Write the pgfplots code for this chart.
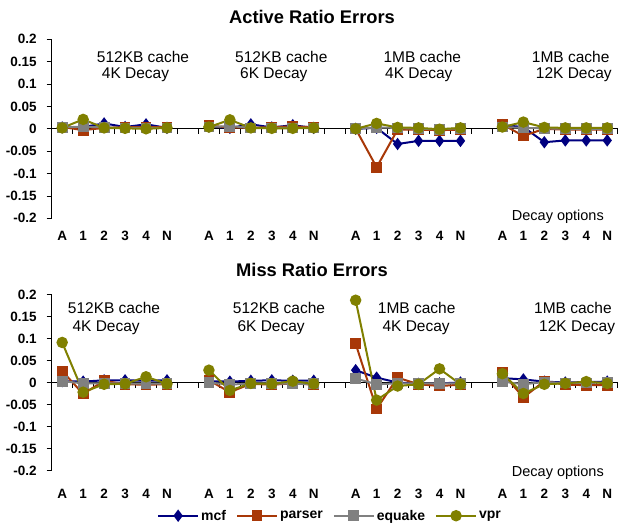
\documentclass[border=0pt]{standalone}
\usepackage{fontspec}
\setmainfont{Liberation Sans}
\usepackage{pgfplots}
\usepackage{pgfplotstable}
\pgfplotsset{compat=1.18}
\definecolor{cmcf}{RGB}{0,0,128}
\definecolor{cparser}{RGB}{168,56,8}
\definecolor{cequake}{RGB}{128,128,128}
\definecolor{cvpr}{RGB}{128,128,0}
\newcommand\tickfont{\fontsize{13.5}{14}\selectfont\bfseries}
\newcommand\glabfont{\fontsize{15.5}{16}\selectfont}

\pgfplotstableread{
x mcf parser equake vpr
0 0.003 0.004 0.003 0.002
1 0.004 -0.003 0.005 0.021
2 0.012 0.002 0.003 0.002
3 0.004 0.004 0.002 0.001
4 0.010 0.004 0.002 0.000
5 0.002 0.004 0.002 0.002
6 nan nan nan nan
7 0.005 0.007 0.004 0.004
8 0.002 0.003 0.006 0.020
9 0.010 0.002 0.002 0.002
10 0.003 0.004 0.002 0.001
11 0.008 0.005 0.002 0.001
12 0.002 0.004 0.002 0.002
13 nan nan nan nan
14 0.000 0.000 0.000 0.000
15 0.002 -0.086 0.003 0.012
16 -0.034 -0.002 0.002 0.003
17 -0.027 -0.002 0.000 0.002
18 -0.027 -0.003 -0.001 -0.001
19 -0.027 -0.002 0.001 0.002
20 nan nan nan nan
21 0.008 0.010 0.004 0.004
22 0.004 -0.016 0.002 0.015
23 -0.030 0.000 0.001 0.003
24 -0.026 -0.002 0.000 0.002
25 -0.026 -0.002 0.000 0.002
26 -0.026 -0.002 0.000 0.002
}\activedata

\pgfplotstableread{
x mcf parser equake vpr
0 0.003 0.026 0.003 0.091
1 0.002 -0.026 -0.002 -0.022
2 0.005 0.004 -0.002 -0.004
3 0.005 -0.004 -0.002 -0.003
4 0.004 -0.005 -0.003 0.013
5 0.005 -0.004 -0.002 -0.003
6 nan nan nan nan
7 0.003 0.005 0.000 0.028
8 0.002 -0.022 -0.005 -0.018
9 0.004 -0.003 -0.002 -0.002
10 0.005 -0.005 -0.002 -0.003
11 0.004 -0.002 -0.003 0.003
12 0.004 -0.005 -0.003 -0.003
13 nan nan nan nan
14 0.028 0.088 0.009 0.187
15 0.011 -0.060 -0.004 -0.040
16 0.000 0.011 -0.002 -0.008
17 -0.003 -0.004 -0.002 -0.004
18 -0.002 -0.008 -0.002 0.031
19 0.000 -0.005 -0.002 -0.004
20 nan nan nan nan
21 0.010 0.022 0.002 0.020
22 0.007 -0.034 -0.004 -0.025
23 0.002 0.003 0.001 -0.004
24 0.000 -0.005 -0.001 -0.002
25 0.001 -0.006 -0.001 0.002
26 0.002 -0.006 0.000 -0.002
}\missdata

\pgfplotsset{
  panel/.style={
    scale only axis, width=566pt, anchor=south west,
    xmin=-0.5, xmax=26.5, ymin=-0.2, ymax=0.2,
    axis y line=left, axis x line=middle,
    axis line style={-, black, line width=0.8pt},
    hide obscured x ticks=false, hide obscured y ticks=false,
    tick align=outside, major tick length=5pt, minor tick length=5pt,
    ytick={-0.2,-0.15,-0.1,-0.05,0,0.05,0.1,0.15,0.2},
    scaled y ticks=false,
    yticklabel style={font=\tickfont, xshift=-6.5pt, /pgf/number format/fixed, /pgf/number format/assume math mode=true},
    y tick style={black, line width=0.8pt},
    xtick={0,1,2,3,4,5,7,8,9,10,11,12,14,15,16,17,18,19,21,22,23,24,25,26},
    xticklabels={A,1,2,3,4,N,A,1,2,3,4,N,A,1,2,3,4,N,A,1,2,3,4,N},
    minor xtick={0.5,1.5,...,26.5},
    major x tick style={draw=none},
    minor x tick style={black, line width=0.8pt},
    unbounded coords=jump, clip=false,
  },
  smcf/.style={color=cmcf, line width=2pt, mark=diamond*, mark size=4.6pt, mark options={solid, fill=cmcf}},
  sparser/.style={color=cparser, line width=2pt, mark=square*, mark size=4.4pt, mark options={solid, fill=cparser}},
  sequake/.style={color=cequake, line width=2pt, mark=square*, mark size=4.4pt, mark options={solid, fill=cequake}},
  svpr/.style={color=cvpr, line width=2pt, mark=*, mark size=4.7pt, mark options={solid, fill=cvpr}},
}

\begin{document}
\begin{tikzpicture}
\useasboundingbox (0,0) rectangle (624pt,525pt);

\begin{axis}[panel, at={(51.7pt,306.7pt)}, height=179pt,
  xticklabel style={font=\tickfont, anchor=center, yshift=-102pt}]
  \addplot[smcf] table[x=x, y=mcf] {\activedata};
  \addplot[sparser] table[x=x, y=parser] {\activedata};
  \addplot[sequake] table[x=x, y=equake] {\activedata};
  \addplot[svpr] table[x=x, y=vpr] {\activedata};
\end{axis}

\begin{axis}[panel, at={(51.7pt,54.5pt)}, height=176pt,
  xticklabel style={font=\tickfont, anchor=center, yshift=-106.5pt},
  legend columns=4,
  legend style={at={(0.4917,-0.257)}, anchor=center, draw=none, fill=none,
    font=\fontsize{14}{14}\selectfont\bfseries,
    /tikz/every even column/.append style={column sep=8pt}},
  legend image code/.code={\draw[#1, mark repeat=2, mark phase=2] plot coordinates {(0pt,0pt) (20pt,0pt) (40pt,0pt)};}]
  \addplot[smcf] table[x=x, y=mcf] {\missdata};
  \addlegendentry{mcf}
  \addplot[sparser] table[x=x, y=parser] {\missdata};
  \addlegendentry{parser}
  \addplot[sequake] table[x=x, y=equake] {\missdata};
  \addlegendentry{equake}
  \addplot[svpr] table[x=x, y=vpr] {\missdata};
  \addlegendentry{vpr}
\end{axis}

% titles
\node[anchor=base, inner sep=0pt, font=\fontsize{18.3}{19}\selectfont\bfseries] at (312pt,501.7pt) {Active Ratio Errors};
\node[anchor=base, inner sep=0pt, font=\fontsize{18.3}{19}\selectfont\bfseries] at (312pt,248pt) {Miss Ratio Errors};

% group labels, top
\begin{scope}[every node/.style={anchor=base west, inner sep=0pt, font=\glabfont}]
\node at (96.7pt,462pt) {512KB cache};  \node at (101.7pt,446.4pt) {4K Decay};
\node at (235pt,462pt) {512KB cache};   \node at (240pt,446.4pt) {6K Decay};
\node at (383.3pt,462pt) {1MB cache};   \node at (385pt,446.4pt) {4K Decay};
\node at (531.7pt,462pt) {1MB cache};   \node at (535.7pt,446.4pt) {12K Decay};
% bottom
\node at (67.7pt,211.4pt) {512KB cache}; \node at (72.3pt,193.3pt) {4K Decay};
\node at (232.7pt,211.4pt) {512KB cache};\node at (237.3pt,193.3pt) {6K Decay};
\node at (377.7pt,211.4pt) {1MB cache};  \node at (382.3pt,193.3pt) {4K Decay};
\node at (534pt,211.4pt) {1MB cache};    \node at (539pt,193.3pt) {12K Decay};
\end{scope}

\node[anchor=base east, inner sep=0pt, font=\fontsize{14.5}{15}\selectfont] at (604pt,304.8pt) {Decay options};
\node[anchor=base east, inner sep=0pt, font=\fontsize{14.5}{15}\selectfont] at (604pt,48.8pt) {Decay options};
\end{tikzpicture}
\end{document}
